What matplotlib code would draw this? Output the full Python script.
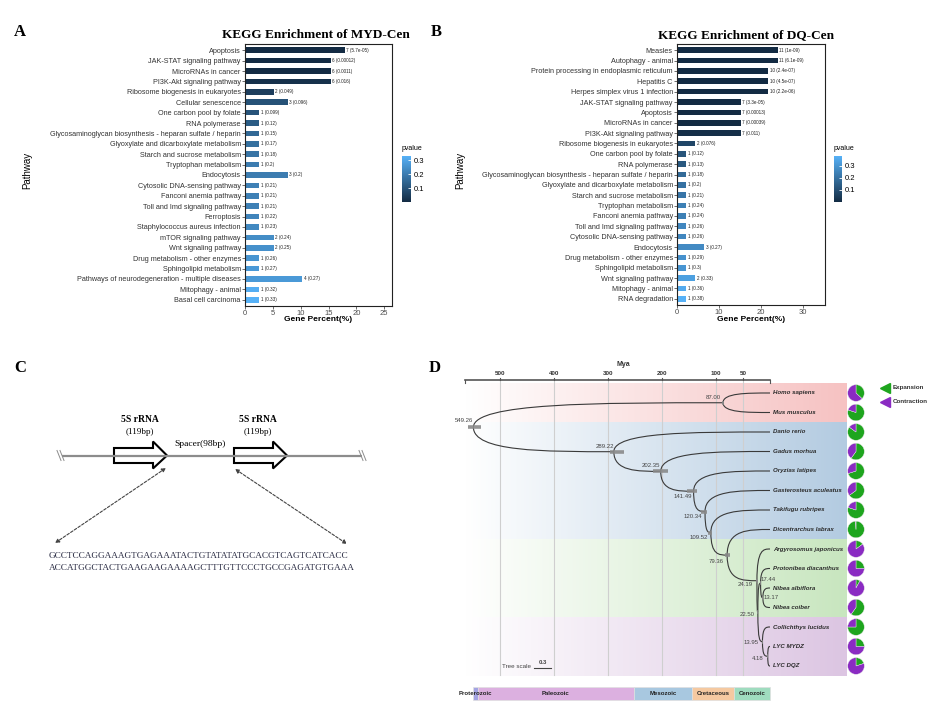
import numpy as np
import matplotlib
matplotlib.use('Agg')
import matplotlib.pyplot as plt
from matplotlib.colors import LinearSegmentedColormap, Normalize, to_rgb
from matplotlib.cm import ScalarMappable
from matplotlib.path import Path
from matplotlib.patches import PathPatch, Polygon, Wedge, Rectangle
import matplotlib.transforms as mtrans

plt.rcParams['font.family'] = ['Liberation Sans', 'DejaVu Sans']

# ---------------- data: panel A (MYD-Cen) ----------------
pathA = ['Apoptosis', 'JAK-STAT signaling pathway', 'MicroRNAs in cancer',
         'PI3K-Akt signaling pathway', 'Ribosome biogenesis in eukaryotes',
         'Cellular senescence', 'One carbon pool by folate', 'RNA polymerase',
         'Glycosaminoglycan biosynthesis - heparan sulfate / heparin',
         'Glyoxylate and dicarboxylate metabolism', 'Starch and sucrose metabolism',
         'Tryptophan metabolism', 'Endocytosis', 'Cytosolic DNA-sensing pathway',
         'Fanconi anemia pathway', 'Toll and Imd signaling pathway', 'Ferroptosis',
         'Staphylococcus aureus infection', 'mTOR signaling pathway',
         'Wnt signaling pathway', 'Drug metabolism - other enzymes',
         'Sphingolipid metabolism', 'Pathways of neurodegeneration - multiple diseases',
         'Mitophagy - animal', 'Basal cell carcinoma']
countA = [7, 6, 6, 6, 2, 3, 1, 1, 1, 1, 1, 1, 3, 1, 1, 1, 1, 1, 2, 2, 1, 1, 4, 1, 1]
pvalA = ['5.7e-05', '0.00012', '0.0011', '0.016', '0.049', '0.096', '0.099', '0.12',
         '0.15', '0.17', '0.18', '0.2', '0.2', '0.21', '0.21', '0.21', '0.22', '0.23',
         '0.24', '0.25', '0.26', '0.27', '0.27', '0.32', '0.33']
genesA = 39

# ---------------- data: panel B (DQ-Cen) ----------------
pathB = ['Measles', 'Autophagy - animal', 'Protein processing in endoplasmic reticulum',
         'Hepatitis C', 'Herpes simplex virus 1 infection', 'JAK-STAT signaling pathway',
         'Apoptosis', 'MicroRNAs in cancer', 'PI3K-Akt signaling pathway',
         'Ribosome biogenesis in eukaryotes', 'One carbon pool by folate', 'RNA polymerase',
         'Glycosaminoglycan biosynthesis - heparan sulfate / heparin',
         'Glyoxylate and dicarboxylate metabolism', 'Starch and sucrose metabolism',
         'Tryptophan metabolism', 'Fanconi anemia pathway', 'Toll and Imd signaling pathway',
         'Cytosolic DNA-sensing pathway', 'Endocytosis', 'Drug metabolism - other enzymes',
         'Sphingolipid metabolism', 'Wnt signaling pathway', 'Mitophagy - animal',
         'RNA degradation']
countB = [11, 11, 10, 10, 10, 7, 7, 7, 7, 2, 1, 1, 1, 1, 1, 1, 1, 1, 1, 3, 1, 1, 2, 1, 1]
pvalB = ['1e-09', '6.1e-09', '2.4e-07', '4.5e-07', '2.2e-06', '3.3e-05', '0.00013',
         '0.00039', '0.011', '0.076', '0.12', '0.13', '0.18', '0.2', '0.21', '0.24',
         '0.24', '0.26', '0.26', '0.27', '0.29', '0.3', '0.33', '0.36', '0.38']
genesB = 46

# ---------------- data: panel C ----------------
seq_line1 = 'GCCTCCAGGAAAGTGAGAAATACTGTATATATGCACGTCAGTCATCACC'
seq_line2 = 'ACCATGGCTACTGAAGAAGAAAAGCTTTGTTCCCTGCCGAGATGTGAAA'

# ---------------- data: panel D (tree) ----------------
species = ['Homo sapiens', 'Mus musculus', 'Danio rerio', 'Gadus morhua',
           'Oryzias latipes', 'Gasterosteus aculeatus', 'Takifugu rubripes',
           'Dicentrarchus labrax', 'Argyrosomus japonicus', 'Protonibea diacanthus',
           'Nibea albiflora', 'Nibea coiber', 'Collichthys lucidus', 'LYC MYDZ', 'LYC DQZ']
expansion_frac = [0.37, 0.80, 0.85, 0.60, 0.70, 0.65, 0.80, 0.99,
                  0.15, 0.25, 0.08, 0.60, 0.75, 0.25, 0.20]
tree_nodes = [
    ('549.26', ['87.00', '289.22']),
    ('87.00', ['Homo sapiens', 'Mus musculus']),
    ('289.22', ['Danio rerio', '202.35']),
    ('202.35', ['Gadus morhua', '141.49']),
    ('141.49', ['Oryzias latipes', '120.34']),
    ('120.34', ['Gasterosteus aculeatus', '109.52']),
    ('109.52', ['Takifugu rubripes', '79.36']),
    ('79.36', ['Dicentrarchus labrax', '24.19']),
    ('24.19', ['Argyrosomus japonicus', '22.50']),
    ('22.50', ['17.44', '13.95']),
    ('17.44', ['Protonibea diacanthus', '13.17']),
    ('13.17', ['Nibea albiflora', 'Nibea coiber']),
    ('13.95', ['Collichthys lucidus', '4.18']),
    ('4.18', ['LYC MYDZ', 'LYC DQZ']),
]
node_hpd = {'549.26': (559, 535), '87.00': (89, 85), '289.22': (296, 270),
            '202.35': (217, 189), '141.49': (154, 135), '120.34': (128, 117),
            '109.52': (115, 107), '79.36': (83, 74), '24.19': (25.5, 23),
            '22.50': (23.5, 21.5), '17.44': (18.5, 16.5), '13.17': (14, 12.3),
            '13.95': (15, 13), '4.18': (4.8, 3.6)}
mya_ticks = [500, 400, 300, 200, 100, 50]
eras = ['Proterozoic', 'Paleozoic', 'Mesozoic', 'Cretaceous', 'Cenozoic']
era_bounds = [550, 541, 252, 145, 66, 0]
groups = ['Mammalia', 'Teleostei', 'Sciaenidae I', 'Sciaenidae II']
group_tips = [(0, 1), (2, 7), (8, 11), (12, 14)]

W, H = 951, 712
fig = plt.figure(figsize=(W / 100, H / 100), dpi=100)


def rect(x0, y0, x1, y1):
    return [x0 / W, 1 - y1 / H, (x1 - x0) / W, (y1 - y0) / H]


def ftext(x, y, s, **kw):
    fig.text(x / W, 1 - y / H, s, **kw)


serif = ['Liberation Serif', 'DejaVu Serif']
for lab, x, y in [('A', 20, 32), ('B', 436, 32), ('C', 20, 368), ('D', 435, 368)]:
    ftext(x, y, lab, family=serif, fontsize=12, fontweight='bold', ha='center', va='center')

# ---------------- panels A & B ----------------
cmap = LinearSegmentedColormap.from_list('gg_blue', ['#132B43', '#56B1F7'])


def kegg_panel(box, cb_box, names, counts, pvals, n_genes, xmax, xticks, title, title_x, ylab_x):
    ax = fig.add_axes(rect(*box))
    pnum = np.array([float(s) for s in pvals])
    pct = np.array(counts) / n_genes * 100
    norm = Normalize(pnum.min(), pnum.max())
    ypos = np.arange(len(names))
    ax.barh(ypos, pct, height=0.55, color=cmap(norm(pnum)), edgecolor='none')
    for y, v, c, s in zip(ypos, pct, counts, pvals):
        ax.text(v + xmax * 0.01, y, f'{c} ({s})', fontsize=3.3, va='center', ha='left',
                color='#222222')
    ax.set_yticks(ypos)
    ax.set_yticklabels(names, fontsize=5.2, color='#333333')
    ax.set_ylim(len(names) - 0.4, -0.6)
    ax.set_xlim(0, xmax)
    ax.set_xticks(xticks)
    ax.set_xticklabels([str(t) for t in xticks], fontsize=5.5, color='#4d4d4d')
    ax.tick_params(length=2, width=0.5, color='#333333', pad=1)
    for sp in ax.spines.values():
        sp.set_linewidth(0.8)
        sp.set_color('#222222')
    ftext((box[0] + box[2]) / 2, 319, 'Gene Percent(%)', fontsize=6, fontweight='bold',
          ha='center', va='center')
    ftext(ylab_x, 170, 'Pathway', fontsize=7, rotation=90, ha='center', va='center')
    ftext(title_x, 35, title, family=serif, fontsize=9.5, fontweight='bold',
          ha='center', va='center')
    cax = fig.add_axes(rect(*cb_box))
    cb = fig.colorbar(ScalarMappable(norm=norm, cmap=cmap), cax=cax, ticks=[0.1, 0.2, 0.3])
    cb.outline.set_visible(False)
    cax.tick_params(labelsize=5.5, length=2, width=0.6, color='white', direction='in', pad=2)
    ftext(cb_box[0], 149, 'pvalue', fontsize=5, ha='left', va='center')


kegg_panel((245, 44, 392, 306), (402, 156, 411, 202), pathA, countA, pvalA, genesA,
           26.4, [0, 5, 10, 15, 20, 25], 'KEGG Enrichment of MYD-Cen', 316, 27)
kegg_panel((677, 44, 825, 305), (834, 156, 842, 202), pathB, countB, pvalB, genesB,
           35.2, [0, 10, 20, 30], 'KEGG Enrichment of DQ-Cen', 746, 460)

# ---------------- panel C: schematic ----------------
axc = fig.add_axes(rect(0, 330, 440, 600))
axc.set_xlim(0, 440)
axc.set_ylim(600, 330)
axc.axis('off')
yc = 455.5
axc.plot([62, 362], [yc, yc], color='#8c8c8c', lw=1.6, solid_capstyle='butt')
for x in (57, 359):
    for dx in (0, 3):
        axc.plot([x + dx, x + dx + 4], [yc - 5, yc + 5], color='#8c8c8c', lw=0.7)
for x0, xh, x1 in [(114, 153, 167), (234, 273, 287)]:
    pts = [(x0, yc - 7.5), (xh, yc - 7.5), (xh, yc - 14), (x1, yc), (xh, yc + 13),
           (xh, yc + 7.5), (x0, yc + 7.5)]
    axc.add_patch(Polygon(pts, closed=True, facecolor='white', edgecolor='black', lw=1.5,
                          joinstyle='miter'))
for xm in (140, 258):
    axc.text(xm, 419, '5S rRNA', family=serif, fontsize=6.9, fontweight='bold',
             ha='center', va='center')
    axc.text(xm, 432, '(119bp)', family=serif, fontsize=6.6, ha='center', va='center')
axc.text(200, 444, 'Spacer(98bp)', family=serif, fontsize=6.8, ha='center', va='center')
for (xa, ya), (xb, yb) in [((166, 468), (55, 543)), ((235, 469), (347, 544))]:
    axc.annotate('', xy=(xb, yb), xytext=(xa, ya),
                 arrowprops=dict(arrowstyle='<|-|>', linestyle=(0, (2.5, 1.5)), lw=0.8,
                                 color='#444444', mutation_scale=6, shrinkA=0, shrinkB=0))
axc.text(49, 556, seq_line1, family=serif, fontsize=6.7, color='#2e3047', ha='left', va='center')
axc.text(49, 568, seq_line2, family=serif, fontsize=6.7, color='#2e3047', ha='left', va='center')

# ---------------- panel D: time tree ----------------
axd = fig.add_axes(rect(440, 340, 951, 712))
X0PX, PXMY = 770, 0.54     # pixel of 0 Mya, pixels per Mya
Y0PX, PXTIP = 393, 19.5    # pixel of first tip, pixels per tip


def mx(px):
    return (X0PX - px) / PXMY


def my(py):
    return (py - Y0PX) / PXTIP


axd.set_xlim(mx(440), mx(951))
axd.set_ylim(my(712), my(340))
axd.axis('off')

# gradient bands
band_colors = ['#f6c2c2', '#b3cbe1', '#c8e6bf', '#dcc5e2']
grad = np.linspace(0.0, 1.0, 256)
for (t0, t1), col in zip(group_tips, band_colors):
    rgb = np.array(to_rgb(col))
    img = (1 - grad)[:, None] * np.ones(3) + grad[:, None] * rgb
    axd.imshow(img[None, :, :], extent=(565, mx(846), t1 + 0.49, t0 - 0.49),
               aspect='auto', interpolation='bilinear', zorder=0)

# time axis
yax = my(380)
axd.plot([565, 0], [yax, yax], color='#555555', lw=1.2, zorder=3)
for t in mya_ticks:
    axd.plot([t, t], [yax, yax - 0.12], color='#555555', lw=0.8, zorder=3)
    axd.plot([t, t], [yax, my(675)], color='#cfcfcf', lw=0.8, zorder=1)
    axd.text(t, my(374), str(t), fontsize=4.5, fontweight='bold', ha='center', va='center',
             color='#333333')
for t in (565, 0):
    axd.plot([t, t], [yax, yax + 0.15], color='#555555', lw=0.8, zorder=3)
axd.text(mx(623), my(365), 'Mya', fontsize=5, fontweight='bold', ha='center', va='center',
         color='#333333')

# node coordinates
age = {name: float(name) for name, _ in tree_nodes}
ycoord = {sp: i for i, sp in enumerate(species)}
for sp in species:
    age[sp] = 0.0
children = dict(tree_nodes)


def node_y(n):
    if n not in ycoord:
        ycoord[n] = np.mean([node_y(c) for c in children[n]])
    return ycoord[n]


for name, _ in tree_nodes:
    node_y(name)

for name, kids in tree_nodes:
    px_, py_ = age[name], ycoord[name]
    for k in kids:
        cx, cy = age[k], ycoord[k]
        verts = [(px_, py_), (px_, cy), (px_ + 0.5 * (cx - px_), cy), (cx, cy)]
        path = Path(verts, [Path.MOVETO, Path.CURVE4, Path.CURVE4, Path.CURVE4])
        axd.add_patch(PathPatch(path, facecolor='none', edgecolor='#3a3a3a', lw=0.8, zorder=4))

label_off = {'549.26': (-9, -7), '87.00': (-10, -5), '289.22': (-9, -5), '202.35': (-10, -6),
             '141.49': (-11, 5), '120.34': (-12, 5), '109.52': (-12, 5), '79.36': (-11, 6),
             '24.19': (-12, 4), '22.50': (-11, 2), '17.44': (8, -4), '13.17': (8, 0),
             '13.95': (-11, 1), '4.18': (-10, 2)}
for name, _ in tree_nodes:
    lo, hi = node_hpd[name]
    axd.plot([lo, hi], [ycoord[name]] * 2, color='#8a8a8a', lw=2.6, alpha=0.9, zorder=5,
             solid_capstyle='butt')
    dx, dy = label_off[name]
    axd.text(age[name] - dx / PXMY, ycoord[name] + dy / PXTIP, name, fontsize=4.3,
             color='#444444', ha='center', va='center', zorder=6)

for sp in species:
    axd.text(mx(773), ycoord[sp], sp, fontsize=4.4, fontweight='bold', style='italic',
             color='#2b2b2b', ha='left', va='center', zorder=6)

# pies
green, purple = '#1ea51e', '#8a2bc2'
for sp, g in zip(species, expansion_frac):
    tr = fig.dpi_scale_trans + mtrans.ScaledTranslation(mx(856), ycoord[sp], axd.transData)
    r = 0.083
    axd.add_patch(Wedge((0, 0), r, 90 - 360 * g, 90, facecolor=green, edgecolor='#e6e6e6',
                        lw=0.3, transform=tr, zorder=6))
    axd.add_patch(Wedge((0, 0), r, 90, 450 - 360 * g, facecolor=purple, edgecolor='#e6e6e6',
                        lw=0.3, transform=tr, zorder=6))

# legend
for lab, col, py in [('Expansion', green, 388), ('Contraction', purple, 402)]:
    axd.plot([mx(885)], [my(py)], marker='<', color=col, markersize=6.5, zorder=6)
    axd.text(mx(893), my(py), lab, fontsize=4.5, fontweight='bold', color='#333333',
             ha='left', va='center')

# tree scale
axd.text(mx(516), my(666), 'Tree scale', fontsize=4.5, color='#444444', ha='center',
         va='center', zorder=6)
axd.plot([mx(534), mx(551)], [my(668)] * 2, color='#444444', lw=0.8, zorder=6)
axd.text(mx(542.5), my(663), '0.3', fontsize=4.3, fontweight='bold', color='#444444',
         ha='center', va='center', zorder=6)

# geological timescale
era_colors = ['#a3a3e3', '#dcb0e0', '#a8c8e0', '#f5c9a1', '#9fdcbf']
for i, (era, col) in enumerate(zip(eras, era_colors)):
    a, b = era_bounds[i], era_bounds[i + 1]
    axd.add_patch(Rectangle((a, my(687)), b - a, my(700) - my(687), facecolor=col,
                            edgecolor='#e0e0e0', lw=0.5, zorder=2))
for i, era in enumerate(eras):
    a, b = era_bounds[i], era_bounds[i + 1]
    axd.text((a + b) / 2, my(693.5), era, fontsize=4.3, fontweight='bold', color='#222222',
             ha='center', va='center', zorder=3)

fig.savefig('out.png', dpi=100)
